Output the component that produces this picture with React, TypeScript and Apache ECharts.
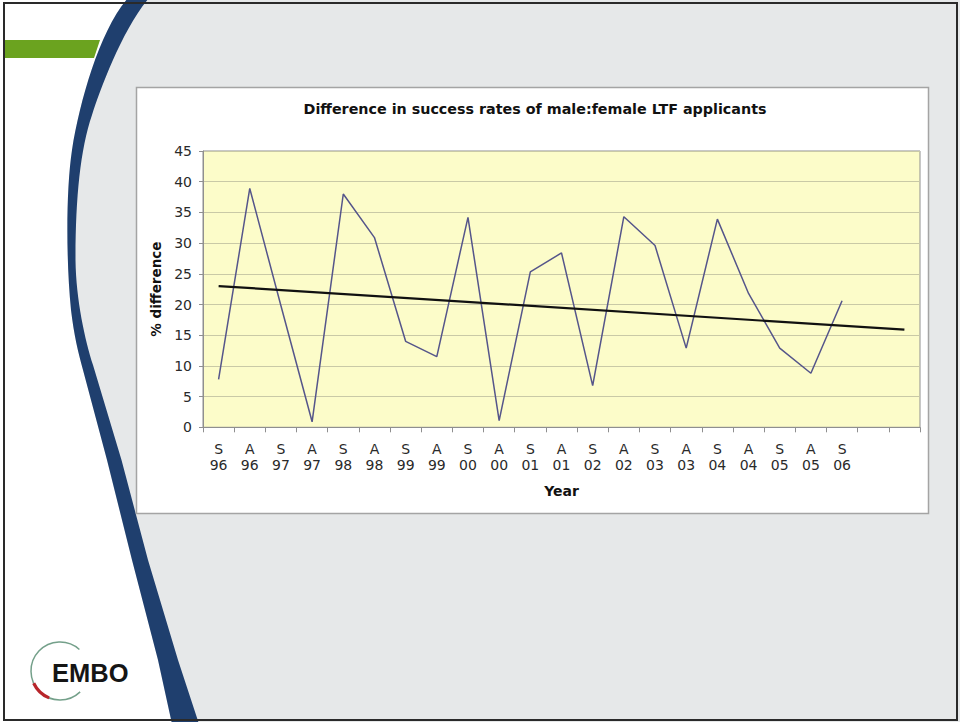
import React, { useEffect, useRef } from "react";
import * as echarts from "echarts";

// Half-year rounds: S = spring, A = autumn
const categories = [
  "S\n96", "A\n96", "S\n97", "A\n97", "S\n98", "A\n98", "S\n99", "A\n99",
  "S\n00", "A\n00", "S\n01", "A\n01", "S\n02", "A\n02", "S\n03", "A\n03",
  "S\n04", "A\n04", "S\n05", "A\n05", "S\n06", "", "",
];

// % difference in success rate, male vs female applicants
const diffValues = [
  7.8, 38.9, 19.8, 0.9, 38.0, 30.9, 14.0, 11.5, 34.2, 1.1, 25.3,
  28.4, 6.8, 34.3, 29.6, 12.9, 33.9, 21.8, 12.9, 8.8, 20.6,
];

// Linear trend: value at first round and two rounds past the last one
const trendStart = 23.0;
const trendEnd = 15.9;

const yTicks = { min: 0, max: 45, interval: 5 };

const FONT = "'DejaVu Sans', Verdana, sans-serif";

// Slide decoration outlines (curved blue band, white area to its left)
const BAND_LEFT =
  "C 100 30 80 100 72 150 C 66 190 66 260 71 310 C 74 335 78 352 83 370 " +
  "L 107 460 L 132 560 L 158 660 L 172 724";
const BAND_RIGHT =
  "L 199 724 L 178 660 L 148 560 L 121.5 460 L 93 365 " +
  "C 85 340 76 300 75.5 260 C 75.5 200 80 150 92 115 C 100 90 122 30 149 -2 Z";
const WHITE_PATH = `M -10 -2 L 128 -2 ${BAND_LEFT} L -10 724 Z`;
const BAND_PATH = `M 128 -2 ${BAND_LEFT} ${BAND_RIGHT}`;

echarts.graphic.registerShape("slideWhite", echarts.graphic.extendPath(WHITE_PATH, {}));
echarts.graphic.registerShape("slideBand", echarts.graphic.extendPath(BAND_PATH, {}));

export default function App() {
  const ref = useRef<HTMLDivElement>(null);

  useEffect(() => {
    if (!ref.current) return;
    const chart = echarts.init(ref.current, null, { renderer: "svg" });

    const trendData: (number | null)[] = categories.map(() => null);
    trendData[0] = trendStart;
    trendData[categories.length - 1] = trendEnd;

    chart.setOption({
      animation: false,
      graphic: [
        { type: "rect", z: -20, shape: { x: 0, y: 0, width: 960, height: 722 }, style: { fill: "#e6e8e9" } },
        { type: "slideWhite", z: -19, x: 0, y: 0, style: { fill: "#ffffff" } },
        { type: "polygon", z: -18, shape: { points: [[4, 40], [100, 40], [94, 58], [4, 58]] }, style: { fill: "#6ba31f" } },
        { type: "slideBand", z: -17, x: 0, y: 0, style: { fill: "#1f3f6e" } },
        {
          type: "rect", z: -16,
          shape: { x: 4, y: 3, width: 953, height: 717 },
          style: { fill: "none", stroke: "#2a2a2a", lineWidth: 2 },
        },
        {
          type: "rect", z: -15,
          shape: { x: 136.5, y: 87.5, width: 792, height: 426 },
          style: { fill: "#ffffff", stroke: "#a4a4a4", lineWidth: 1.5 },
        },
        {
          type: "text", z: 5, x: 535, y: 108.5,
          style: {
            text: "Difference in success rates of male:female LTF applicants",
            font: `bold 14.3px ${FONT}`, fill: "#111", align: "center", verticalAlign: "middle",
          },
        },
        // EMBO logo
        {
          type: "arc", z: -10,
          shape: { cx: 60, cy: 671, r: 29, startAngle: (46 * Math.PI) / 180, endAngle: (312 * Math.PI) / 180, clockwise: true },
          style: { stroke: "#74a08a", lineWidth: 1.5, fill: "none" },
        },
        {
          type: "arc", z: -9,
          shape: { cx: 60, cy: 671, r: 29, startAngle: (112 * Math.PI) / 180, endAngle: (155 * Math.PI) / 180, clockwise: true },
          style: { stroke: "#b8262b", lineWidth: 3.2, fill: "none" },
        },
        {
          type: "text", z: -8, x: 52, y: 673,
          style: {
            text: "EMBO", font: "bold 25.5px 'Liberation Sans', Arial, sans-serif",
            fill: "#151515", align: "left", verticalAlign: "middle",
          },
        },
      ],
      grid: {
        left: 203, top: 151, right: 40, bottom: 294.7,
        show: true, backgroundColor: "#fcfcc9", borderColor: "#8f8f8f", borderWidth: 1,
      },
      xAxis: {
        type: "category",
        data: categories,
        boundaryGap: true,
        name: "Year",
        nameLocation: "middle",
        nameGap: 57,
        nameTextStyle: { fontFamily: FONT, fontWeight: "bold", fontSize: 14, color: "#111" },
        axisLine: { show: true, lineStyle: { color: "#8f8f8f", width: 1 } },
        axisTick: { show: true, inside: false, length: 5, interval: 0, lineStyle: { color: "#8f8f8f" } },
        axisLabel: { interval: 0, fontFamily: FONT, fontSize: 14, lineHeight: 16.5, color: "#2a2a2a", margin: 13 },
        splitLine: { show: false },
      },
      yAxis: {
        type: "value",
        min: yTicks.min, max: yTicks.max, interval: yTicks.interval,
        name: "% difference",
        nameLocation: "middle",
        nameGap: 35,
        nameRotate: 90,
        nameTextStyle: { fontFamily: FONT, fontWeight: "bold", fontSize: 13.5, color: "#111" },
        axisLine: { show: true, lineStyle: { color: "#8f8f8f", width: 1 } },
        axisTick: { show: true, inside: false, length: 4, lineStyle: { color: "#8f8f8f" } },
        axisLabel: { fontFamily: FONT, fontSize: 14, color: "#2a2a2a", margin: 11 },
        splitLine: { show: true, lineStyle: { color: "#c9c9a6", width: 1 } },
      },
      series: [
        {
          type: "line",
          data: diffValues,
          symbol: "none",
          lineStyle: { color: "#55558a", width: 1.5 },
          z: 3,
        },
        {
          type: "line",
          data: trendData,
          connectNulls: true,
          symbol: "none",
          lineStyle: { color: "#111111", width: 2.2 },
          z: 4,
        },
      ],
    });

    return () => chart.dispose();
  }, []);

  return (
    <div
      ref={ref}
      style={{ position: "absolute", left: 0, top: 0, width: 960, height: 722 }}
    />
  );
}
